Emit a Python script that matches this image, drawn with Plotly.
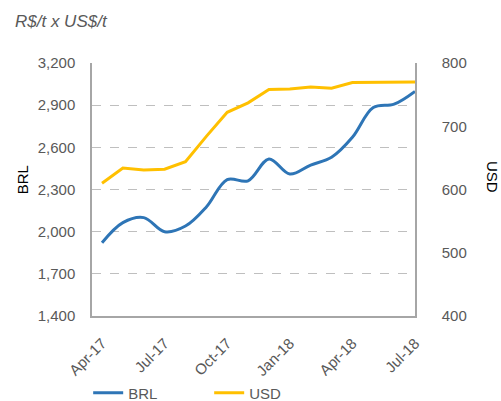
import plotly.graph_objects as go

months = list(range(16))
tick_pos = [0, 3, 6, 9, 12, 15]
tick_labels = ["Apr-17", "Jul-17", "Oct-17", "Jan-18", "Apr-18", "Jul-18"]
brl = [1921, 2064, 2100, 2000, 2040, 2176, 2371, 2362, 2517, 2410, 2474, 2529, 2671, 2883, 2907, 2998]
usd = [610, 634, 631, 632, 644, 684, 722, 737, 758, 759, 762, 760, 769, 769, 770, 770]

fig = go.Figure()
fig.add_trace(go.Scatter(x=months, y=brl, name="BRL", mode="lines",
                         line=dict(color="#2E75B6", width=3, shape="spline", smoothing=1.0),
                         yaxis="y"))
fig.add_trace(go.Scatter(x=months, y=usd, name="USD", mode="lines",
                         line=dict(color="#FFC000", width=3),
                         yaxis="y2"))

font_color = "#595959"
tick_font = dict(family="Liberation Sans, Arial", size=15, color=font_color)
fig.update_layout(
    width=501, height=401,
    margin=dict(l=92, r=86, t=63, b=85, autoexpand=False),
    paper_bgcolor="white", plot_bgcolor="white",
    font=dict(family="Liberation Sans, Arial", size=15, color=font_color),
    showlegend=True,
    legend=dict(orientation="h", x=0.176, xref="container", xanchor="left",
                y=0.02, yref="container", yanchor="middle",
                font=dict(size=15, color=font_color),
                entrywidth=76, entrywidthmode="pixels",
                traceorder="normal"),
    xaxis=dict(range=[-0.48, 15], tickvals=tick_pos, ticktext=tick_labels, tickfont=tick_font,
               tickangle=-45, showgrid=False, zeroline=False, automargin=False,
               showline=True, linecolor="#A6A6A6", linewidth=1.5,
               ticks="", ticklabelstandoff=11),
    yaxis=dict(range=[1400, 3200], tickvals=[1400, 1700, 2000, 2300, 2600, 2900, 3200],
               tickfont=tick_font,
               tickformat=",d", showgrid=True, gridcolor="#BFBFBF", griddash="dash", gridwidth=1,
               zeroline=False, showline=True, linecolor="#A6A6A6", linewidth=1.5, automargin=False,
               ticks="", ticklabelstandoff=12),
    yaxis2=dict(range=[400, 800], tickvals=[400, 500, 600, 700, 800], overlaying="y", side="right",
                tickfont=tick_font,
                showgrid=False, zeroline=False, showline=True, linecolor="#A6A6A6", linewidth=1.5,
                automargin=False, ticks="", ticklabelstandoff=22),
    annotations=[
        dict(text="<i>R$/t x US$/t</i>", xref="paper", yref="paper", x=-0.245, y=1.165,
             xanchor="left", yanchor="middle", showarrow=False,
             font=dict(size=17, color=font_color, family="Liberation Sans, Arial")),
        dict(text="BRL", xref="paper", yref="paper", x=-0.217, y=0.54, textangle=-90,
             showarrow=False, xanchor="center", yanchor="middle",
             font=dict(size=15, color="black")),
        dict(text="USD", xref="paper", yref="paper", x=1.238, y=0.55, textangle=90,
             showarrow=False, xanchor="center", yanchor="middle",
             font=dict(size=15, color="black")),
    ],
)
fig.write_html("out.html", config={"displayModeBar": False},
               post_script="document.body.style.margin='0';document.body.style.overflow='hidden';")
